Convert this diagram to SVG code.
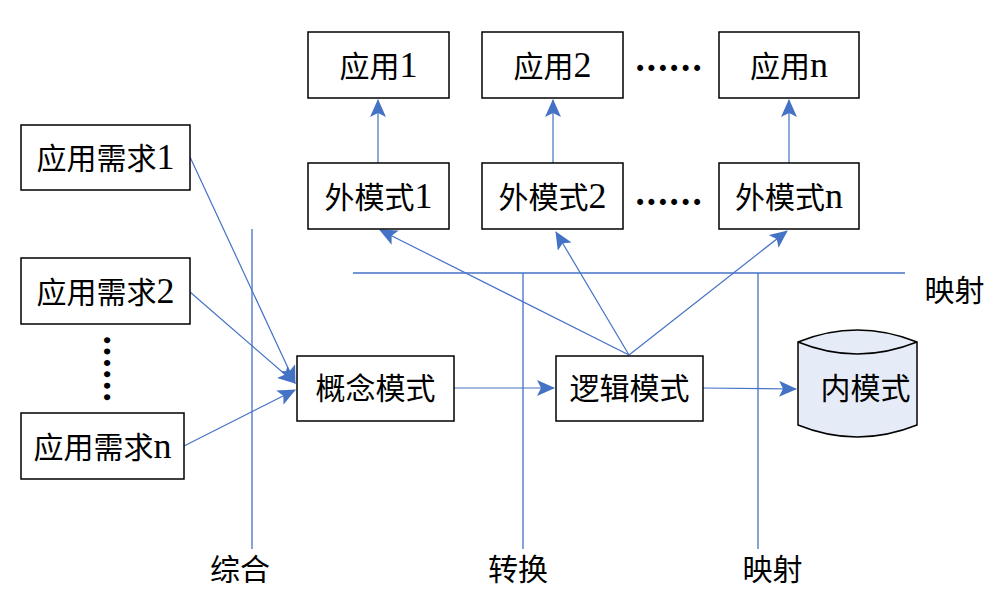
<svg xmlns="http://www.w3.org/2000/svg" width="1006" height="603" viewBox="0 0 1006 603">
<style>
.box{fill:#fff;stroke:#000;stroke-width:1.5}
.t{font-family:"Liberation Serif","Noto Sans CJK SC",serif;font-size:30px;fill:#000;text-anchor:middle}
.l{font-size:36px}
.dots{font-family:"Liberation Serif",serif;font-size:37px;font-weight:bold;fill:#000;letter-spacing:2.15px}
.ln{stroke:#4472C4;stroke-width:1.3;fill:none}
.ar{stroke:#4472C4;stroke-width:1.2;fill:none;marker-end:url(#ah)}
</style>
<defs>
<marker id="ah" viewBox="0 0 18 16" refX="17" refY="8" markerWidth="18" markerHeight="16" orient="auto" markerUnits="userSpaceOnUse">
<path d="M0,0 L18,8 L0,16 L4,8 Z" fill="#4472C4"/>
</marker>
</defs>
<rect width="1006" height="603" fill="#fff"/>

<g id="guides">
<line class="ln" x1="353" y1="273" x2="905" y2="273"/>
<line class="ln" x1="252" y1="229" x2="252" y2="549"/>
<line class="ln" x1="523" y1="273" x2="523" y2="549"/>
<line class="ln" x1="758" y1="273" x2="758" y2="549"/>
</g>

<g id="connectors">
<line class="ar" x1="378" y1="163" x2="378" y2="100"/>
<line class="ar" x1="553" y1="163" x2="553" y2="100"/>
<line class="ar" x1="789" y1="163" x2="789" y2="100"/>
<line class="ar" x1="629" y1="355" x2="380" y2="230"/>
<line class="ar" x1="629" y1="355" x2="556" y2="232"/>
<line class="ar" x1="629" y1="355" x2="787" y2="231"/>
<line class="ar" x1="190" y1="157" x2="295" y2="383"/>
<line class="ar" x1="190" y1="292" x2="295" y2="383"/>
<line class="ar" x1="184" y1="446" x2="295" y2="390"/>
<line class="ar" x1="454" y1="388" x2="554" y2="388"/>
<line class="ar" x1="703" y1="388" x2="796" y2="389"/>
</g>

<g id="app1"><rect class="box" x="308" y="32" width="141" height="66"/><text class="t" x="378.5" y="77">应用<tspan class="l">1</tspan></text></g>
<g id="app2"><rect class="box" x="482" y="32" width="141" height="66"/><text class="t" x="552.5" y="77">应用<tspan class="l">2</tspan></text></g>
<g id="appn"><rect class="box" x="719" y="32" width="140" height="66"/><text class="t" x="789" y="77">应用<tspan class="l">n</tspan></text></g>
<g id="dots-top"><text class="dots" x="635.4" y="71">......</text></g>

<g id="ext1"><rect class="box" x="308" y="163" width="141" height="66"/><text class="t" x="378.5" y="208">外模式<tspan class="l">1</tspan></text></g>
<g id="ext2"><rect class="box" x="482" y="163" width="141" height="66"/><text class="t" x="552.5" y="208">外模式<tspan class="l">2</tspan></text></g>
<g id="extn"><rect class="box" x="719" y="163" width="140" height="66"/><text class="t" x="789" y="208">外模式<tspan class="l">n</tspan></text></g>
<g id="dots-mid"><text class="dots" x="635.4" y="205">......</text></g>

<g id="req1"><rect class="box" x="21" y="125" width="169" height="65"/><text class="t" x="105.5" y="169">应用需求<tspan class="l">1</tspan></text></g>
<g id="req2"><rect class="box" x="21" y="258" width="169" height="66"/><text class="t" x="105.5" y="303">应用需求<tspan class="l">2</tspan></text></g>
<g id="dots-left"><text class="dots" x="335.4" y="-104" transform="rotate(90)">......</text></g>
<g id="reqn"><rect class="box" x="21" y="413" width="163" height="66"/><text class="t" x="102.5" y="458">应用需求<tspan class="l">n</tspan></text></g>

<g id="conceptual"><rect class="box" x="297" y="356" width="157" height="65"/><text class="t" x="375.5" y="399">概念模式</text></g>
<g id="logical"><rect class="box" x="556" y="356" width="147" height="65"/><text class="t" x="629.5" y="399">逻辑模式</text></g>
<g id="internal">
<path d="M798,342 Q857,318 917,342 L917,425 Q857,449 798,425 Z" fill="#E6ECF7" stroke="#000" stroke-width="1.5"/>
<path d="M798,342 Q857,366 917,342" fill="none" stroke="#000" stroke-width="1.5"/>
<text class="t" x="865.5" y="399">内模式</text>
</g>

<g id="labels">
<text class="t" x="240" y="580">综合</text>
<text class="t" x="518" y="580">转换</text>
<text class="t" x="772.5" y="580">映射</text>
<text class="t" x="954.5" y="301">映射</text>
</g>
</svg>
